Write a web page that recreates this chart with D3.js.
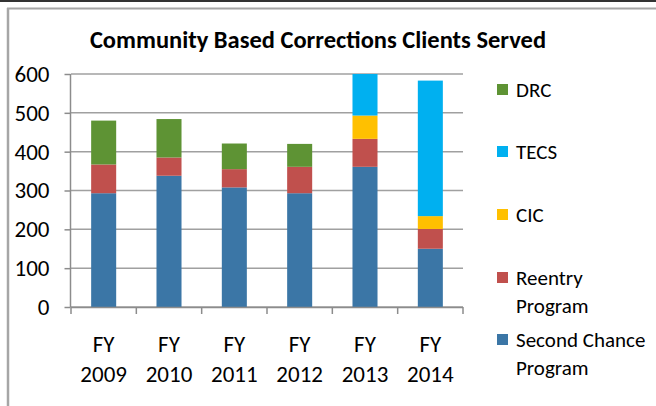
<!DOCTYPE html>
<html>
<head>
<meta charset="utf-8">
<script src="https://cdn.jsdelivr.net/npm/d3@7"></script>
<style>
  body { margin: 0; background: #fff; }
  svg { display: block; font-family: Carlito, Calibri, Lato, sans-serif; }
</style>
</head>
<body>
<svg id="chart" width="656" height="406"></svg>
<script>
// fiscal years
var years = ["2009", "2010", "2011", "2012", "2013", "2014"];
// series values, bottom of the stack first
var secondChance = [293, 338, 308, 293, 361, 150];
var reentry = [74, 47, 47, 68, 72, 51];
var cic = [0, 0, 0, 0, 60, 33];
var tecs = [0, 0, 0, 0, 107, 349];
var drc = [113, 99, 66, 59, 0, 0];
var seriesNames = ["Second Chance Program", "Reentry Program", "CIC", "TECS", "DRC"];
var yTicks = [0, 100, 200, 300, 400, 500, 600];

var colors = ["#3b76a6", "#c0504d", "#ffc000", "#00b0f0", "#5e9334"];
var svg = d3.select("#chart");

// frame lines of the picture
svg.append("rect").attr("x", 0).attr("y", 0).attr("width", 656).attr("height", 2).attr("fill", "#333");
svg.append("line").attr("x1", 7).attr("y1", 8.5).attr("x2", 656).attr("y2", 8.5)
  .attr("stroke", "#a6a6a6").attr("stroke-width", 2);
svg.append("line").attr("x1", 8).attr("y1", 8).attr("x2", 8).attr("y2", 406)
  .attr("stroke", "#a6a6a6").attr("stroke-width", 2.5);

// title
svg.append("text")
  .attr("x", 318).attr("y", 48)
  .attr("text-anchor", "middle")
  .attr("font-weight", "bold")
  .attr("font-size", 24.5)
  .attr("fill", "#000")
  .text("Community Based Corrections Clients Served");

var rows = years.map(function(y, i) {
  return { year: y, s0: secondChance[i], s1: reentry[i], s2: cic[i], s3: tecs[i], s4: drc[i] };
});
var stack = d3.stack().keys(["s0", "s1", "s2", "s3", "s4"]);
var layers = stack(rows);

var x = d3.scaleBand().domain(years).range([71, 463]).paddingInner(0.617).paddingOuter(0.3085);
var y = d3.scaleLinear().domain([0, 600]).range([307, 74]);

// gridlines
svg.append("g").selectAll("line").data(yTicks).enter()
  .append("line")
  .attr("x1", 71).attr("x2", 463)
  .attr("y1", function(d) { return y(d); })
  .attr("y2", function(d) { return y(d); })
  .attr("stroke", "#a0a0a0")
  .attr("stroke-width", 1.5);

// bars
svg.append("defs").append("clipPath").attr("id", "plot")
  .append("rect").attr("x", 71).attr("y", 74).attr("width", 392).attr("height", 233);

svg.append("g").attr("clip-path", "url(#plot)")
  .selectAll("g").data(layers).enter()
  .append("g")
  .attr("fill", function(d, i) { return colors[i]; })
  .selectAll("rect").data(function(d) { return d; }).enter()
  .append("rect")
  .attr("x", function(d) { return x(d.data.year); })
  .attr("width", x.bandwidth())
  .attr("y", function(d) { return y(d[1]); })
  .attr("height", function(d) { return y(d[0]) - y(d[1]); });

// y axis
var yAxis = d3.axisLeft(y).tickValues(yTicks).tickSize(6).tickPadding(15);
var gy = svg.append("g").attr("transform", "translate(70.5,0)").call(yAxis);
gy.select(".domain").attr("stroke", "#8c8c8c").attr("stroke-width", 1.5).attr("d", "M0,74V307");
gy.selectAll(".tick line").attr("stroke", "#8c8c8c").attr("stroke-width", 1.5);
gy.selectAll(".tick text").attr("font-size", 23).attr("fill", "#000")
  .attr("font-family", "Carlito, Calibri, Lato, sans-serif");

// x axis with tick marks on the category boundaries
var bounds = d3.range(years.length + 1).map(function(i) { return 71 + i * x.step(); });
svg.append("line").attr("x1", 71).attr("x2", 463).attr("y1", 307.5).attr("y2", 307.5)
  .attr("stroke", "#8c8c8c").attr("stroke-width", 1.5);
svg.append("g").selectAll("line").data(bounds).enter()
  .append("line")
  .attr("x1", function(d) { return d; }).attr("x2", function(d) { return d; })
  .attr("y1", 307).attr("y2", 314)
  .attr("stroke", "#8c8c8c").attr("stroke-width", 1.5);

var xl = svg.append("g").selectAll("text").data(years).enter()
  .append("text")
  .attr("text-anchor", "middle")
  .attr("font-size", 23)
  .attr("fill", "#000");
xl.append("tspan")
  .attr("x", function(d) { return x(d) + x.bandwidth() / 2; })
  .attr("y", 352)
  .text("FY");
xl.append("tspan")
  .attr("x", function(d) { return x(d) + x.bandwidth() / 2; })
  .attr("y", 382)
  .text(function(d) { return d; });

// legend, top to bottom is reverse of the stack
var legendItems = [
  { name: 4, lines: ["DRC"], y: 97 },
  { name: 3, lines: ["TECS"], y: 159 },
  { name: 2, lines: ["CIC"], y: 222 },
  { name: 1, lines: ["Reentry", "Program"], y: 285 },
  { name: 0, lines: ["Second Chance", "Program"], y: 347 }
];
var lg = svg.append("g").selectAll("g").data(legendItems).enter().append("g");
lg.append("rect")
  .attr("x", 497).attr("width", 11).attr("height", 11)
  .attr("y", function(d) { return d.y - 13; })
  .attr("fill", function(d) { return colors[d.name]; });
var lt = lg.append("text")
  .attr("font-size", 21)
  .attr("fill", "#000")
  .attr("data-series", function(d) { return seriesNames[d.name]; });
lt.selectAll("tspan").data(function(d) { return d.lines.map(function(l, i) { return { t: l, y: d.y + i * 28 }; }); })
  .enter().append("tspan")
  .attr("x", 516)
  .attr("y", function(d) { return d.y; })
  .text(function(d) { return d.t; });
</script>
</body>
</html>
